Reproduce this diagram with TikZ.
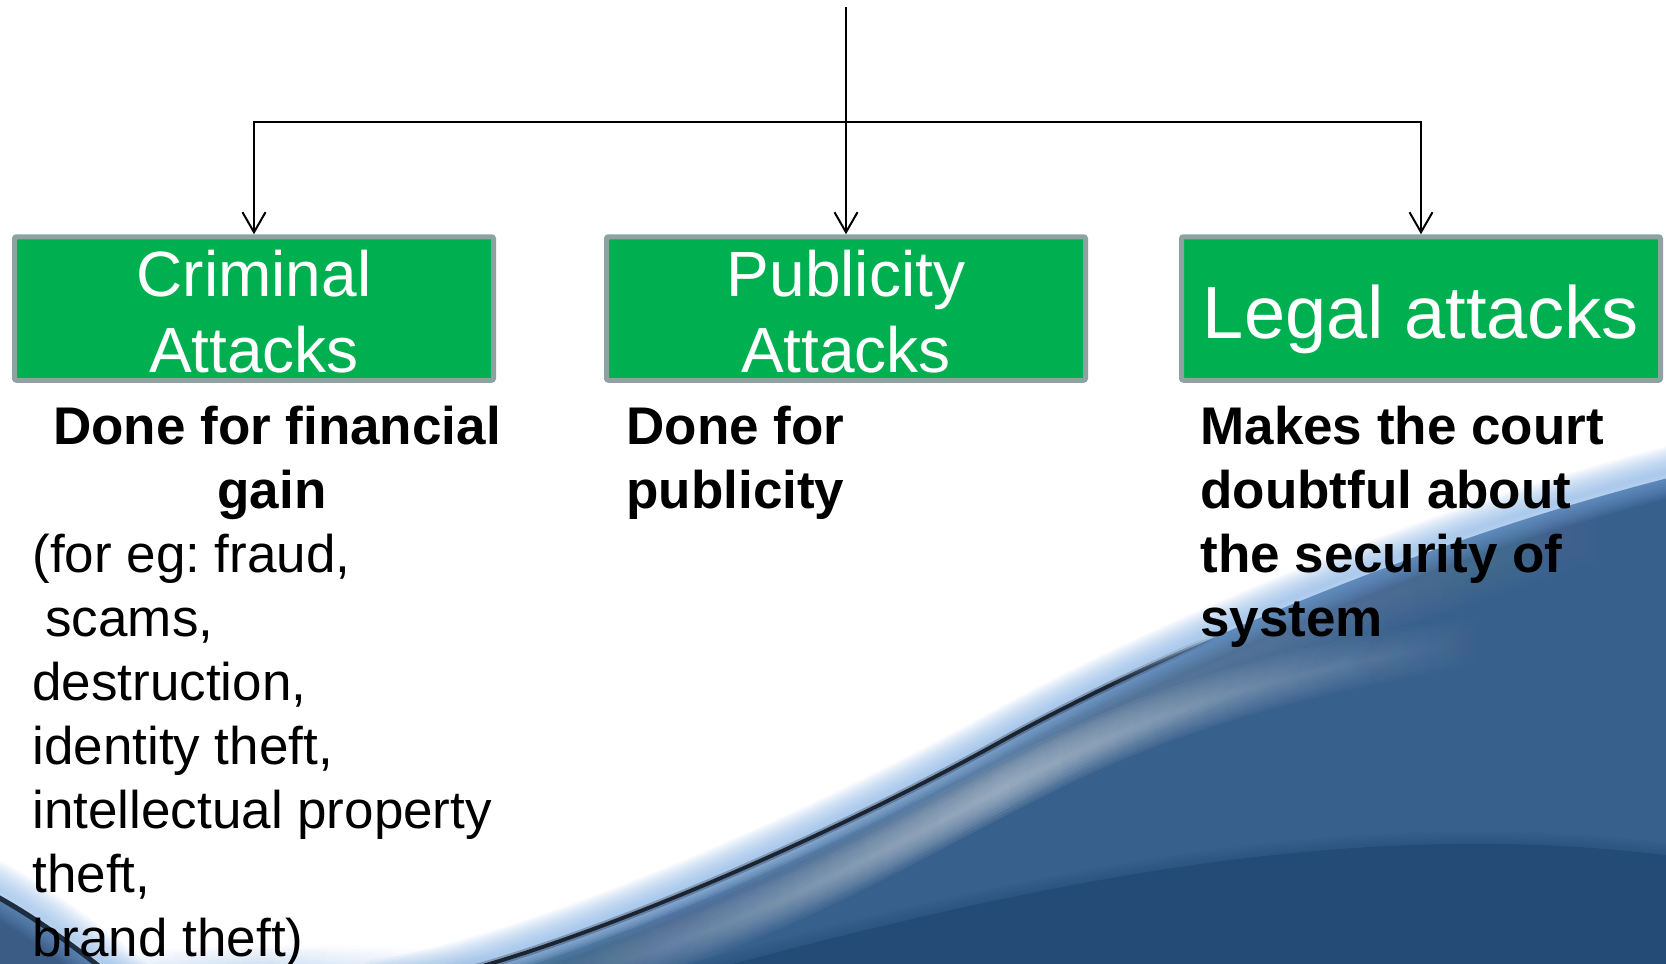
\documentclass[tikz,border=0pt]{standalone}
\usepackage{fontspec}
\setmainfont{Liberation Sans}
\usetikzlibrary{arrows.meta,fadings}

\definecolor{boxgreen}{RGB}{0,176,80}
\definecolor{boxrim}{RGB}{142,162,163}
\definecolor{wavebody}{RGB}{56,96,141}
\definecolor{wavedeep}{RGB}{36,75,117}
\definecolor{wavegray}{RGB}{112,137,166}
\definecolor{wavestreak}{RGB}{190,202,214}
\definecolor{waveglow}{RGB}{128,176,230}
\definecolor{wavepale}{RGB}{214,228,242}
\definecolor{waveedge}{RGB}{26,36,50}
\definecolor{cornerblue}{RGB}{58,92,133}

% middle color has to follow left/right color, which reset it
\tikzfading[name=tailfade, left color=transparent!0, right color=transparent!100, middle color=transparent!0]
\tikzfading[name=bothends, left color=transparent!100, right color=transparent!100, middle color=transparent!0]

% crest of the wave, split into three Bezier pieces
\newcommand\crestlow{(380,990) .. controls (540,965) and (820,842) .. (1000,742)}
\newcommand\crestmid{.. controls (1052,713.2) and (1126.4,675.9) .. (1214.9,637.1)}
\newcommand\cresttop{.. controls (1347.6,578.8) and (1512,517) .. (1680,475)}
% light streak, deep lower band and the small swoosh in the lower left corner
\newcommand\streakpath{(520,990) .. controls (760,930) and (880,850) .. (1040,770) .. controls (1180,700) and (1320,665) .. (1480,640)}
\newcommand\deeppath{(560,1010) .. controls (900,920) and (1300,800) .. (1700,860)}
\newcommand\cornerpath{(-40,878) .. controls (20,905) and (75,945) .. (140,1000)}

\begin{document}
\frenchspacing
\begin{tikzpicture}[x=0.5pt,y=-0.5pt,
  greenbox/.style={draw=boxrim, fill=boxgreen, line width=2.5pt, rounded corners=1pt,
    minimum width=239.5pt, minimum height=71.75pt, inner sep=0pt,
    text=white, align=center},
  twoline/.style={font=\fontsize{32}{38}\selectfont},
  oneline/.style={font=\fontsize{37}{44}\selectfont},
  desc/.style={inner sep=0pt, align=left, anchor=north west,
    font=\fontsize{26.5}{32}\selectfont},
  descbold/.style={desc, font=\fontsize{26.5}{32}\selectfont\bfseries},
  link/.style={draw=black, line width=1pt, -{Straight Barb[length=10pt, width=11.5pt]}},
  soft/.style={line cap=round, opacity=#1},
]
\useasboundingbox (0,0) rectangle (1666,964);

% ---- background wave ----
\begin{scope}
  \clip (0,0) rectangle (1666,964);
  \fill[white] (0,0) rectangle (1666,964);

  % body of the wave below the crest
  \begin{scope}
    \clip \crestlow \crestmid \cresttop -- (1720,1020) -- (360,1020) -- cycle;
    \fill[wavebody] (300,400) rectangle (1720,1020);
    % grey-blue band just under the crest
    \foreach \i in {1,...,10}
      \draw[wavegray, line width=\i*3.6pt, soft=0.1, yshift=-15pt, path fading=bothends]
        \crestlow \crestmid \cresttop;
    % pale rim right under the crest
    \foreach \i in {1,...,6}
      \draw[wavepale, line width=\i*2.2pt, soft=0.13, path fading=tailfade]
        \crestlow \crestmid;
    % pale streak across the middle of the wave
    \foreach \i in {1,...,9}
      \draw[wavestreak, line width=\i*2.8pt, soft=0.11, path fading=bothends] \streakpath;
    % deep blue lower band with a soft upper edge
    \fill[wavedeep] \deeppath -- (1720,1020) -- (560,1020) -- cycle;
    \foreach \i in {1,...,5}
      \draw[wavedeep, line width=\i*2.4pt, soft=0.1] \deeppath;
  \end{scope}

  % pale glow along the crest
  \foreach \i in {1,...,12}
    \draw[waveglow, line width=\i*2.1pt, soft=0.08, yshift=3pt] \crestlow \crestmid \cresttop;

  % dark edge of the crest, fading out towards the right
  \draw[waveedge, line width=4pt, opacity=0.3] \crestlow;
  \draw[waveedge, line width=1.9pt] \crestlow;
  \draw[waveedge, line width=4pt, opacity=0.3, path fading=tailfade] (1000,742) \crestmid;
  \draw[waveedge, line width=1.9pt, path fading=tailfade] (1000,742) \crestmid;

  % soft light band along the bottom edge
  \foreach \i in {1,...,8}
    \draw[waveglow, line width=\i*3pt, soft=0.06, path fading=bothends]
      (20,985) .. controls (180,968) and (330,966) .. (480,975);

  % small swoosh in the lower left corner
  \fill[cornerblue] \cornerpath -- (-40,1000) -- cycle;
  \foreach \i in {1,...,10}
    \draw[waveglow, line width=\i*2.6pt, soft=0.08, yshift=4pt] \cornerpath;
  \draw[waveedge!85!wavebody, line width=2.5pt] \cornerpath;
\end{scope}

% ---- boxes ----
\node[greenbox, twoline] (crim) at (254,308.5) {\rule{0pt}{26.5pt}Criminal\\Attacks};
\node[greenbox, twoline] (pub) at (846,308.5) {\rule{0pt}{26.5pt}Publicity\\Attacks};
\node[greenbox, oneline] (legal) at (1421,308.5) {\rule[-8pt]{0pt}{45.5pt}Legal attacks};

% ---- connectors ----
\coordinate (top) at (846,7);
\coordinate (hub) at (846,122);
\draw[link] (top) -- (pub);
\draw[link] (hub) -| (crim);
\draw[link] (hub) -| (legal);

% ---- descriptions ----
\node[descbold, anchor=north, align=center] (crimwhy) at (272,400)
  {\rule{0pt}{22pt}\hspace{5pt}Done for financial\\gain};
\node[desc] (crimlist) at (32,528)
  {\rule{0pt}{22pt}(for eg: fraud,\\\hspace{6.5pt}scams,\\destruction,\\identity theft,\\intellectual property\\theft,\\brand theft)};
\node[descbold] (pubwhy) at (626,400) {\rule{0pt}{22pt}Done for\\publicity};
\node[descbold] (legalwhy) at (1200,400)
  {\rule{0pt}{22pt}Makes the court\\doubtful about\\the security of\\system};
\end{tikzpicture}
\end{document}
